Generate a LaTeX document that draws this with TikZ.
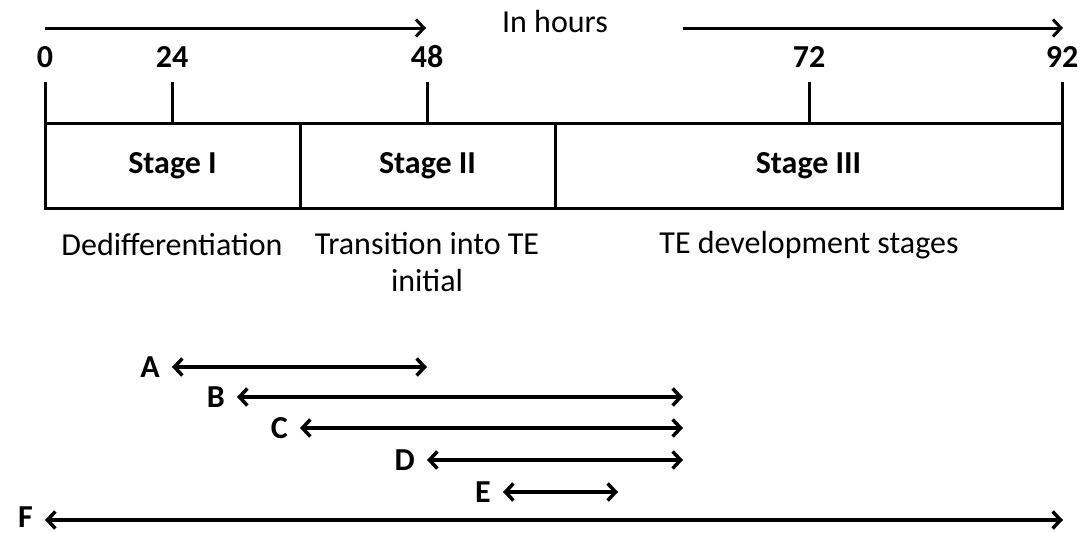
\documentclass[tikz,border=0pt]{standalone}
\usepackage{fontspec}
\setmainfont{Carlito}
\usetikzlibrary{arrows.meta}
\begin{document}
\begin{tikzpicture}[x=1pt,y=-1pt,
  txt/.style={font=\fontsize{32}{37}\selectfont, inner sep=0pt},
  btxt/.style={txt, font=\fontsize{32}{37}\selectfont\bfseries},
  stagebox/.style={draw, line width=3pt, minimum height=85pt, inner sep=0pt, btxt},
  tick/.style={line width=3pt},
  span/.style={line width=3.5pt, {Straight Barb[length=8pt,width=17pt]}-{Straight Barb[length=8pt,width=17pt]}},
  timearrow/.style={line width=3pt, -{Straight Barb[length=8pt,width=17pt]}}]
\useasboundingbox (0,0) rectangle (1085,533);

% time direction arrows and caption
\coordinate (t0) at (45,28);
\coordinate (t1) at (426,28);
\coordinate (t2) at (683,28);
\coordinate (t3) at (1063,28);
\draw[timearrow] (t0) -- (t1);
\draw[timearrow] (t2) -- (t3);
\node[txt] (hours) at (555,22) {In hours};

% hour marks
\node[btxt] (h0)  at (45,57)   {0};
\node[btxt] (h24) at (172,57)  {24};
\node[btxt] (h48) at (427,57)  {48};
\node[btxt] (h72) at (809,57)  {72};
\node[btxt] (h92) at (1062,57) {92};

% stage boxes
\node[stagebox, minimum width=255pt] (s1) at (172.5,165.5) {Stage I};
\node[stagebox, minimum width=255pt] (s2) at (427.5,165.5) {Stage II};
\node[stagebox, minimum width=507pt] (s3) at (808.5,165.5) {Stage III};

% ticks from marks down to the boxes
\foreach \x/\n in {45/0,172/24,427/48,809/72,1062/92}{
  \coordinate (k\n) at (\x,82);
  \coordinate (b\n) at (\x,123);
  \draw[tick] (k\n) -- (b\n);
}

% stage descriptions
\node[txt] (d1) at (172,245) {Dedifferentiation};
\node[txt, align=center] (d2) at (427,262) {Transition into TE\\initial};
\node[txt] (d3) at (809,245) {TE development stages};

% treatment windows
\foreach \n/\xa/\xb/\y/\dy in {A/172/427/367/0, B/237/683/397/0, C/300/683/428/0, D/427/683/460/0, E/503/618/492/0, F/45/1063/520/-3}{
  \coordinate (\n l) at (\xa,\y);
  \coordinate (\n r) at (\xb,\y);
  \node[btxt, anchor=east] (\n) at ([xshift=-12pt,yshift=-\dy pt]\n l) {\n};
  \draw[span] (\n l) -- (\n r);
}
\end{tikzpicture}
\end{document}
